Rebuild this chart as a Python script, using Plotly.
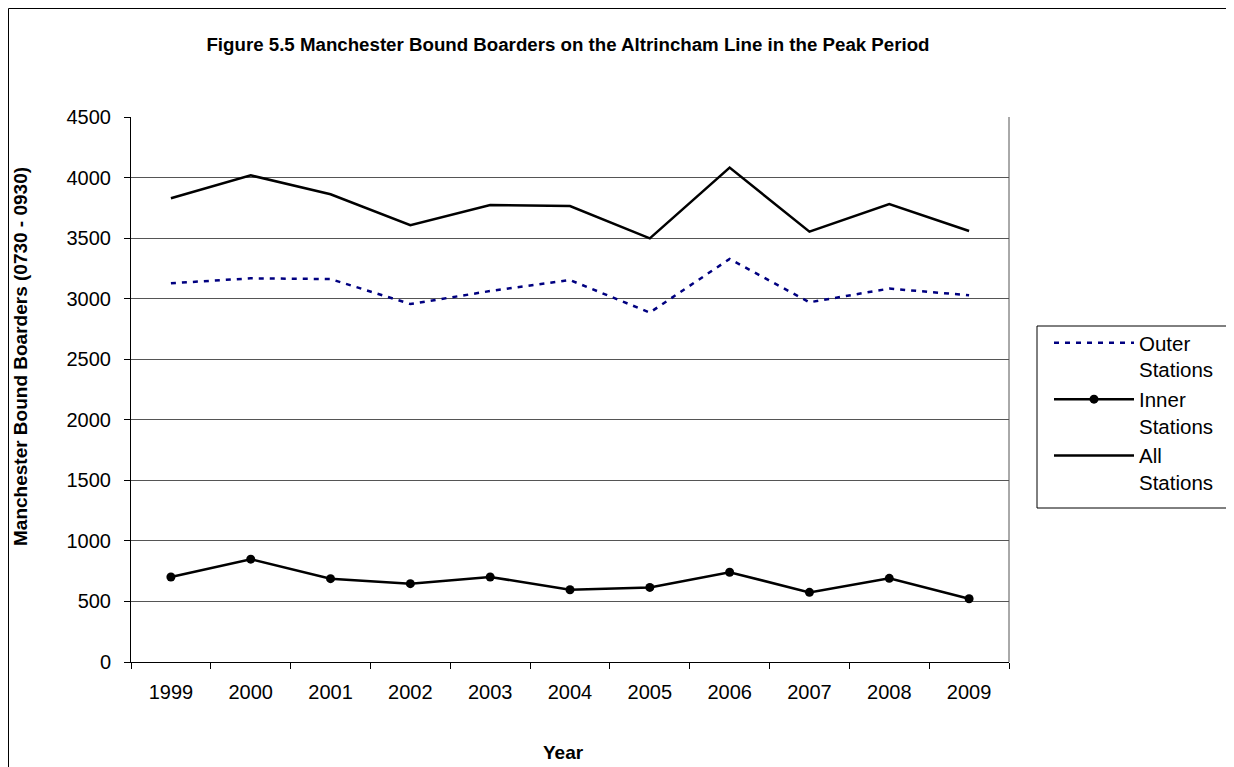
import plotly.graph_objects as go

years = ["1999", "2000", "2001", "2002", "2003", "2004", "2005", "2006", "2007", "2008", "2009"]
outer_stations = [3127, 3168, 3162, 2956, 3063, 3154, 2885, 3328, 2970, 3083, 3028]
inner_stations = [702, 849, 688, 647, 702, 597, 616, 741, 575, 691, 522]
all_stations = [3829, 4018, 3862, 3606, 3773, 3765, 3498, 4082, 3553, 3782, 3559]

fig = go.Figure()
fig.add_trace(go.Scatter(x=years, y=outer_stations, mode="lines", name="Outer<br>Stations",
                         legendgroup="a",
                         line=dict(color="#000080", width=2.5, dash="5px,6px")))
fig.add_trace(go.Scatter(x=years, y=inner_stations, mode="lines+markers", name="Inner<br>Stations",
                         legendgroup="b",
                         line=dict(color="black", width=2.5),
                         marker=dict(color="black", size=9, symbol="circle")))
fig.add_trace(go.Scatter(x=years, y=all_stations, mode="lines", name="All<br>Stations",
                         legendgroup="c",
                         line=dict(color="black", width=2.5)))

# page body has an 8px margin; figure is offset by (8, 8)
OFF = 8
W, H = 1234 - OFF, 767 - OFF
L, T = 131 - OFF, 117 - OFF
Rpx, Bpx = 1009 - OFF, 662 - OFF
R, B = W - Rpx, H - Bpx
pw, ph = Rpx - L, Bpx - T

def px_x(x):
    return (x - OFF - L) / pw

def px_y(y):
    return (Bpx - (y - OFF)) / ph

FONT = "Liberation Sans, Arial, sans-serif"

fig.update_layout(
    width=W, height=H,
    margin=dict(l=L, r=R, t=T, b=B),
    paper_bgcolor="white", plot_bgcolor="white",
    font=dict(family=FONT, color="black", size=20),
    title=dict(text="<b>Figure 5.5 Manchester Bound Boarders on the Altrincham Line in the Peak Period</b>",
               x=px_x(568), xref="paper", xanchor="center", y=1 - (44 - OFF) / H, yanchor="middle",
               font=dict(size=18.7, color="black")),
    showlegend=True,
    legend=dict(x=px_x(1049), y=px_y(323), xanchor="left", yanchor="top",
                borderwidth=0, bgcolor="rgba(0,0,0,0)",
                font=dict(size=20.5), itemwidth=80, tracegroupgap=10,
                traceorder="normal", valign="top"),
    xaxis=dict(type="category", tickson="boundaries", ticks="outside", ticklen=6,
               tickcolor="black", showline=True, linecolor="black", linewidth=1,
               showgrid=False, range=[-0.5, 10.5], ticklabelstandoff=12,
               tickfont=dict(size=20)),
    yaxis=dict(range=[0, 4500], dtick=500, tick0=0, ticks="outside", ticklen=6,
               tickcolor="black", showline=True, linecolor="black", linewidth=1,
               showgrid=True, gridcolor="#555555", gridwidth=1, zeroline=False,
               ticklabelstandoff=9,
               tickfont=dict(size=20)),
    annotations=[
        dict(text="<b>Manchester Bound Boarders (0730 - 0930)</b>", xref="paper", yref="paper",
             x=px_x(20), y=px_y(357), xanchor="center", yanchor="middle", textangle=-90,
             showarrow=False, font=dict(size=19)),
        dict(text="<b>Year</b>", xref="paper", yref="paper",
             x=px_x(563), y=px_y(752), xanchor="center", yanchor="middle",
             showarrow=False, font=dict(size=19)),
    ],
    shapes=[
        dict(type="line", xref="paper", yref="paper", x0=1, x1=1, y0=0, y1=1,
             line=dict(color="#555555", width=1)),
        dict(type="rect", xref="paper", yref="paper", x0=(0.5 - L) / pw, x1=(W + 20 - L) / pw,
             y0=(Bpx - (H + 20)) / ph, y1=(Bpx - 0.5) / ph, line=dict(color="black", width=1), layer="below"),
        dict(type="rect", xref="paper", yref="paper", x0=px_x(1037), x1=px_x(1233),
             y0=px_y(508), y1=px_y(326), line=dict(color="black", width=1),
             fillcolor="white", layer="below"),
    ],
)

fig.write_html("out.html")
